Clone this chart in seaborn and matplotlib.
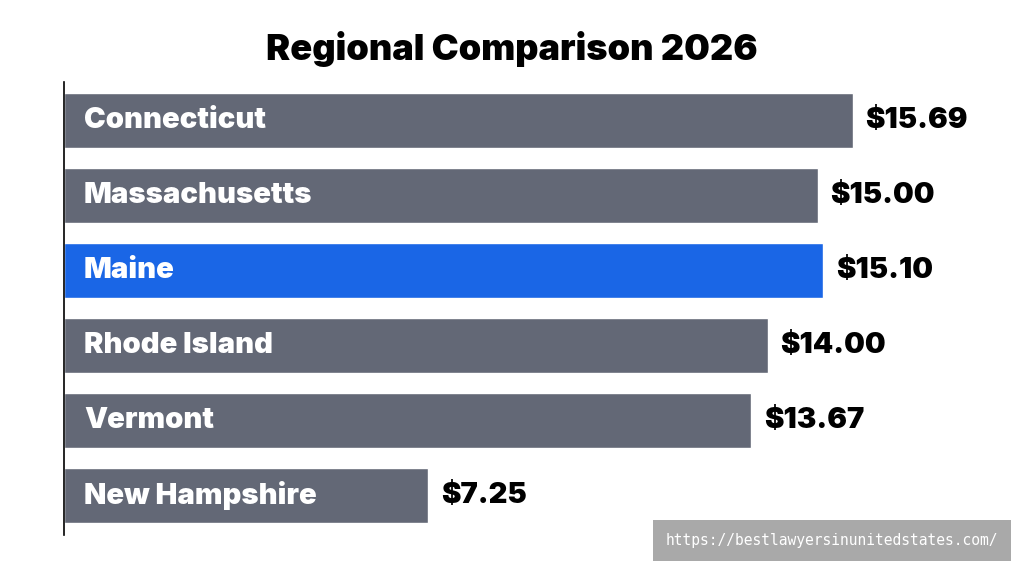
import matplotlib
matplotlib.use("Agg")
import matplotlib.pyplot as plt
import pandas as pd
import seaborn as sns

states = ["Connecticut", "Massachusetts", "Maine", "Rhode Island", "Vermont", "New Hampshire"]
wages = [15.69, 15.00, 15.10, 14.00, 13.67, 7.25]
highlight = "Maine"

sns.set_theme(style="white")
plt.rcParams["font.family"] = ["Inter", "DejaVu Sans"]

df = pd.DataFrame({"state": states, "wage": wages})
colors = {s: ("#1a66e6" if s == highlight else "#636876") for s in states}

fig = plt.figure(figsize=(10.24, 5.72), dpi=100)
ax = fig.add_axes([0.0625, 0.065, 0.918, 0.792])
sns.barplot(data=df, x="wage", y="state", hue="state", palette=colors,
            width=0.73, legend=False, ax=ax, saturation=1)
ax.set_xlim(0, 18.7)
ax.set_ylim(5.52, -0.52)
ax.set_xlabel("")
ax.set_ylabel("")
ax.set_xticks([])
ax.set_yticks([])
for s in ["top", "right", "bottom"]:
    ax.spines[s].set_visible(False)
ax.spines["left"].set_color("black")
ax.spines["left"].set_linewidth(1.2)

for i, (s, w) in enumerate(zip(states, wages)):
    ax.text(0.4, i, s, color="white", fontsize=21, fontweight="black", va="center", ha="left")
    ax.text(w + 0.25, i, f"${w:.2f}", color="black", fontsize=21, fontweight="black", va="center", ha="left")

fig.text(0.5, 0.915, "Regional Comparison 2026", ha="center", va="center",
         fontsize=26, fontweight="black", color="black")

fig.text(0.8125, 0.055, "https://bestlawyersinunitedstates.com/", ha="center", va="center",
         fontsize=10.5, family="DejaVu Sans Mono", color="white",
         bbox=dict(boxstyle="square,pad=0.9", facecolor="#a9a9a9", edgecolor="none"))

fig.savefig("out.png", dpi=100, facecolor="white")
